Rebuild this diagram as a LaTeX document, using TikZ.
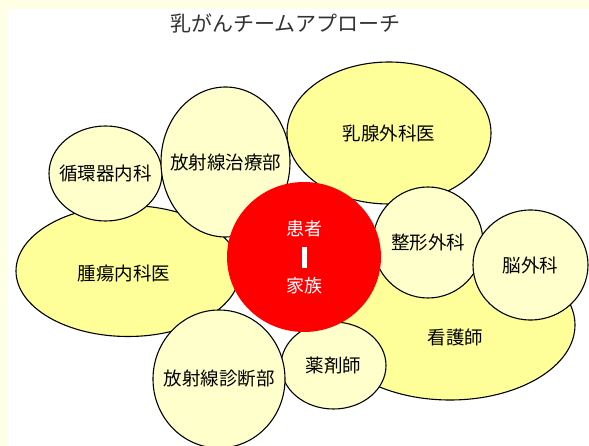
\documentclass[tikz,border=0pt]{standalone}
\usepackage{fontspec}
\setmainfont{Noto Sans CJK JP}
\usetikzlibrary{shapes.geometric}
\definecolor{bandyellow}{RGB}{255,255,230}
\definecolor{paleyellow}{RGB}{255,255,204}
\definecolor{deepyellow}{RGB}{255,255,153}
\newcommand{\deptfont}{\fontsize{18.5}{20}\selectfont}

\begin{document}
\begin{tikzpicture}[x=1pt,y=-1pt,
    every label/.style={font=\deptfont, inner sep=0pt},
    dept/.style={ellipse, draw=black, line width=1.1pt, fill=paleyellow, inner sep=0pt, outer sep=0pt},
    bigdept/.style={dept, fill=deepyellow}]
    \useasboundingbox (0,0) rectangle (589,446);
    \fill[bandyellow] (0,0) rectangle (589,446);
    \fill[white] (7,9) rectangle (589,446);
    \node[font=\fontsize{21}{24}\selectfont, text=black!80] (title) at (285.5,23) {乳がんチームアプローチ};
    % darker ellipses go behind
    \node[bigdept, minimum width=224pt, minimum height=131pt,
          label={[xshift=-4pt, yshift=-2pt]center:腫瘍内科医}] (shuyo) at (128,271) {};
    \node[bigdept, minimum width=204pt, minimum height=142pt,
          label={center:乳腺外科医}] (nyusen) at (389,133) {};
    \node[bigdept, minimum width=250pt, minimum height=150pt,
          label={[xshift=5.5pt, yshift=-12.5pt]center:看護師}] (kango) at (450,325) {};
    % pale circles
    \foreach \n/\x/\y/\w/\h/\t in {junkan/105.5/173.5/113/95/循環器内科, chiryo/225.5/162/129/150/放射線治療部,
        seikei/428/242.5/110/111/整形外科, nou/530.5/265/115/110/脳外科,
        yakuzai/333.5/365.5/105/87/薬剤師, shindan/219/379/132/138/放射線診断部} {
        \node[dept, minimum width=\w pt, minimum height=\h pt, label={center:\t}] (\n) at (\x,\y) {};
    }
    % patient in the middle
    \node[ellipse, fill=red, minimum width=154pt, minimum height=150pt, inner sep=0pt, text=white,
          align=center, font=\fontsize{18}{28.5}\selectfont] (kanja) at (304,257)
          {患者\\\rule[-4pt]{5pt}{21pt}\\家族};
\end{tikzpicture}
\end{document}
